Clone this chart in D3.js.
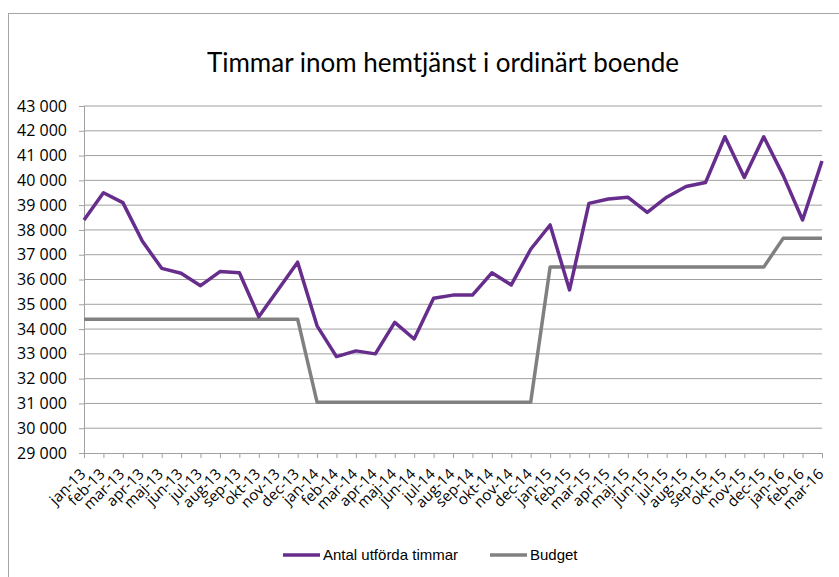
<!DOCTYPE html>
<html>
<head>
<meta charset="utf-8">
<script src="https://cdn.jsdelivr.net/npm/d3@7"></script>
<style>
  body { margin: 0; background: #fff; }
  svg { display: block; }
</style>
</head>
<body>
<svg id="chart"></svg>
<script>
const months = ['jan-13','feb-13','mar-13','apr-13','maj-13','jun-13','jul-13','aug-13','sep-13','okt-13','nov-13','dec-13',
  'jan-14','feb-14','mar-14','apr-14','maj-14','jun-14','jul-14','aug-14','sep-14','okt-14','nov-14','dec-14',
  'jan-15','feb-15','mar-15','apr-15','maj-15','jun-15','jul-15','aug-15','sep-15','okt-15','nov-15','dec-15',
  'jan-16','feb-16','mar-16'];

const timmar = [38400, 39500, 39100, 37550, 36450, 36250, 35750, 36320, 36270, 34500, 35600, 36700,
  34130, 32890, 33120, 33000, 34270, 33600, 35240, 35370, 35370, 36270, 35780, 37220,
  38200, 35580, 39070, 39250, 39320, 38710, 39320, 39750, 39910, 41760, 40120, 41760,
  40200, 38400, 40780];

const budget = [34400, 34400, 34400, 34400, 34400, 34400, 34400, 34400, 34400, 34400, 34400, 34400,
  31050, 31050, 31050, 31050, 31050, 31050, 31050, 31050, 31050, 31050, 31050, 31050,
  36500, 36500, 36500, 36500, 36500, 36500, 36500, 36500, 36500, 36500, 36500, 36500,
  37660, 37660, 37660];

const yTicks = d3.range(29000, 43001, 1000);

const series = [
  { name: 'Antal utförda timmar', values: timmar, color: '#662d8c' },
  { name: 'Budget', values: budget, color: '#808080' }
];

const W = 839, H = 577;
const plot = { left: 84, right: 822, top: 106, bottom: 453 };

const svg = d3.select('#chart')
  .attr('width', W)
  .attr('height', H);

// chart border
svg.append('rect')
  .attr('x', 8.5).attr('y', 13.5)
  .attr('width', 840).attr('height', 600)
  .attr('fill', 'none')
  .attr('stroke', '#a6a6a6')
  .attr('stroke-width', 1);

const x = d3.scalePoint()
  .domain(months)
  .range([plot.left, plot.right]);

const y = d3.scaleLinear()
  .domain([29000, 43000])
  .range([plot.bottom, plot.top]);

// gridlines
svg.append('g')
  .selectAll('line')
  .data(yTicks.slice(1))
  .enter()
  .append('line')
  .attr('x1', plot.left).attr('x2', plot.right)
  .attr('y1', d => y(d)).attr('y2', d => y(d))
  .attr('stroke', '#a0a0a0')
  .attr('stroke-width', 1);

const fmt = d => d3.format(',')(d).replace(',', ' ');

const yAxis = d3.axisLeft(y).tickValues(yTicks).tickFormat(fmt).tickSize(5).tickPadding(12);
const gy = svg.append('g')
  .attr('transform', `translate(${plot.left},0)`)
  .call(yAxis);
gy.select('.domain').attr('stroke', '#a0a0a0');
gy.selectAll('.tick line').attr('stroke', '#a0a0a0');
gy.selectAll('text')
  .attr('fill', '#000')
  .style('font-family', "'Open Sans', sans-serif")
  .style('font-size', '16px');

const xAxis = d3.axisBottom(x).tickSize(5).tickSizeOuter(0);
const gx = svg.append('g')
  .attr('transform', `translate(0,${plot.bottom})`)
  .call(xAxis);
gx.select('.domain').attr('stroke', '#a0a0a0');
gx.selectAll('.tick line').attr('stroke', '#a0a0a0');
gx.selectAll('text')
  .attr('fill', '#000')
  .style('font-family', "'Open Sans', sans-serif")
  .style('font-size', '15px')
  .attr('text-anchor', 'end')
  .attr('dy', null)
  .attr('y', 0)
  .attr('transform', 'translate(2,22) rotate(-45)');

const line = d3.line()
  .x((d, i) => x(months[i]))
  .y(d => y(d));

// budget first so purple sits on top
svg.selectAll('.series')
  .data(series.slice().reverse())
  .enter()
  .append('path')
  .attr('fill', 'none')
  .attr('stroke', d => d.color)
  .attr('stroke-width', 3.5)
  .attr('stroke-linejoin', 'round')
  .attr('d', d => line(d.values));

// title
svg.append('text')
  .attr('x', 443)
  .attr('y', 72)
  .attr('text-anchor', 'middle')
  .attr('font-family', 'Lato, sans-serif')
  .attr('font-size', 26)
  .attr('fill', '#000')
  .text('Timmar inom hemtjänst i ordinärt boende');

// legend
const legendX = [283, 490];
const lg = svg.selectAll('.legend')
  .data(series)
  .enter()
  .append('g')
  .attr('transform', (d, i) => `translate(${legendX[i]},555)`);
lg.append('line')
  .attr('x1', 0).attr('x2', 37)
  .attr('stroke', d => d.color)
  .attr('stroke-width', 3.5);
lg.append('text')
  .attr('x', 40)
  .attr('y', 5)
  .attr('font-family', 'Liberation Sans, Arial, sans-serif')
  .attr('font-size', 15)
  .attr('fill', '#000')
  .text(d => d.name);
</script>
</body>
</html>
